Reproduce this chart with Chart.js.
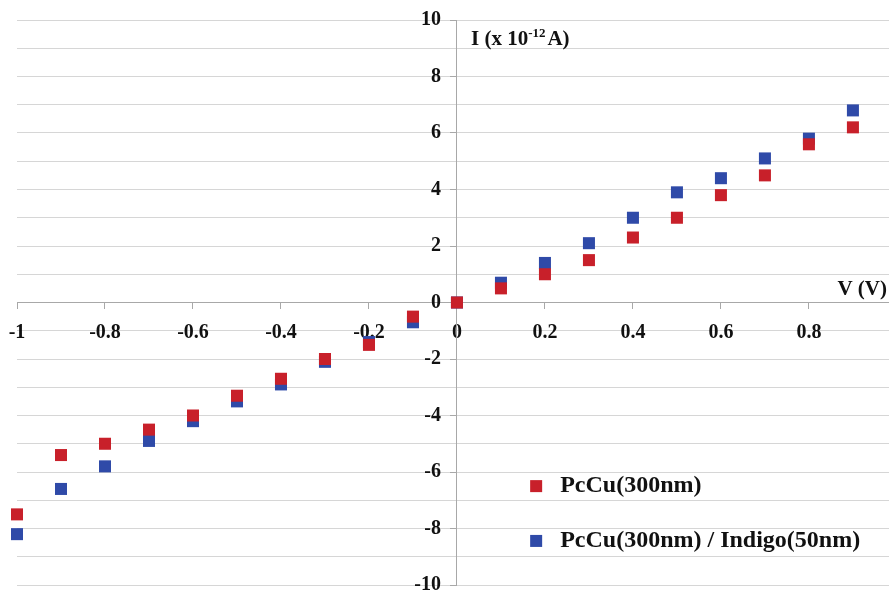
<!DOCTYPE html>
<html>
<head>
<meta charset="utf-8">
<script src="https://cdn.jsdelivr.net/npm/chart.js@4/dist/chart.umd.min.js"></script>
<style>
  html, body { margin: 0; padding: 0; background: #fff; }
  #wrap { width: 889px; height: 592px; }
</style>
</head>
<body>
<div id="wrap"><canvas id="ivChart" width="889" height="592"></canvas></div>
<script>
// voltages (V) and currents (x 10^-12 A)
const voltages = [-1, -0.9, -0.8, -0.7, -0.6, -0.5, -0.4, -0.3, -0.2, -0.1, 0, 0.1, 0.2, 0.3, 0.4, 0.5, 0.6, 0.7, 0.8, 0.9];
const pccu = [-7.5, -5.4, -5.0, -4.5, -4.0, -3.3, -2.7, -2.0, -1.5, -0.5, 0, 0.5, 1.0, 1.5, 2.3, 3.0, 3.8, 4.5, 5.6, 6.2];
const pccuIndigo = [-8.2, -6.6, -5.8, -4.9, -4.2, -3.5, -2.9, -2.1, -1.4, -0.7, 0, 0.7, 1.4, 2.1, 3.0, 3.9, 4.4, 5.1, 5.8, 6.8];
const seriesNames = ['PcCu(300nm)', 'PcCu(300nm) / Indigo(50nm)'];
const seriesColors = ['#c8202a', '#2f4aa8'];
const xTicks = [-1, -0.8, -0.6, -0.4, -0.2, 0, 0.2, 0.4, 0.6, 0.8];

const serif = '"Liberation Serif", "Times New Roman", serif';

function toPoints(ys) {
  return voltages.map((v, i) => ({ x: v, y: ys[i] }));
}

// keep the crossing axes from pushing the plot area inwards
function noPadding(scale) {
  scale.paddingLeft = 0;
  scale.paddingRight = 0;
  scale.paddingTop = 0;
  scale.paddingBottom = 0;
}

// y labels sit right on the axis line by default, move them left a bit
const shiftYLabels = {
  id: 'shiftYLabels',
  beforeDraw(chart) {
    const items = chart.scales.y.getLabelItems(chart.chartArea);
    items.forEach(it => {
      if (!it._shifted) {
        it.options.translation[0] -= 16;
        it._shifted = true;
      }
    });
  }
};

// axis titles and the in-plot legend
const annotations = {
  id: 'annotations',
  afterDraw(chart) {
    const c = chart.ctx;
    const xs = chart.scales.x, ys = chart.scales.y;
    c.save();
    c.fillStyle = '#111';
    c.textBaseline = 'alphabetic';

    // y title: I (x 10^-12 A)
    let tx = xs.getPixelForValue(0) + 14, ty = ys.getPixelForValue(10) + 25;
    c.font = 'bold 21px ' + serif;
    c.fillText('I (x 10', tx, ty);
    tx += c.measureText('I (x 10').width;
    c.font = 'bold 13px ' + serif;
    c.fillText('-12', tx, ty - 8);
    tx += c.measureText('-12').width + 2;
    c.font = 'bold 21px ' + serif;
    c.fillText('A)', tx, ty);

    // x title
    c.textAlign = 'right';
    c.fillText('V (V)', chart.chartArea.right - 2, ys.getPixelForValue(0) - 8);

    // legend
    c.textAlign = 'left';
    c.textBaseline = 'middle';
    c.font = 'bold 24px ' + serif;
    const lx = xs.getPixelForValue(0.18);
    [ys.getPixelForValue(-6.5), ys.getPixelForValue(-8.44)].forEach((ly, i) => {
      c.fillStyle = seriesColors[i];
      c.fillRect(lx - 6, ly - 6, 12, 12);
      c.fillStyle = '#111';
      c.fillText(seriesNames[i], lx + 24, ly);
    });
    c.restore();
  }
};

const ctx = document.getElementById('ivChart').getContext('2d');
new Chart(ctx, {
  type: 'scatter',
  data: {
    datasets: [
      {
        label: seriesNames[0],
        data: toPoints(pccu),
        pointStyle: 'rect',
        pointRadius: 8.5,
        pointHoverRadius: 8.5,
        backgroundColor: seriesColors[0],
        borderColor: seriesColors[0],
        borderWidth: 0,
        clip: false
      },
      {
        label: seriesNames[1],
        data: toPoints(pccuIndigo),
        pointStyle: 'rect',
        pointRadius: 8.5,
        pointHoverRadius: 8.5,
        backgroundColor: seriesColors[1],
        borderColor: seriesColors[1],
        borderWidth: 0,
        clip: false
      }
    ]
  },
  options: {
    responsive: false,
    animation: false,
    layout: { autoPadding: false, padding: { left: 17, top: 20, right: 0, bottom: 7 } },
    scales: {
      x: {
        type: 'linear',
        min: -1,
        max: 0.982,
        position: { y: 0 },
        afterFit: noPadding,
        afterBuildTicks: (scale) => { scale.ticks = xTicks.map(v => ({ value: v })); },
        ticks: {
          color: '#111',
          font: { family: serif, size: 20, weight: 'bold' },
          padding: 12,
          maxRotation: 0,
          callback: (v) => String(v)
        },
        grid: { drawOnChartArea: false, drawTicks: true, tickLength: 6, color: '#a8a8a8' },
        border: { color: '#a8a8a8', width: 1 }
      },
      y: {
        type: 'linear',
        min: -10,
        max: 10,
        position: { x: 0 },
        afterFit: noPadding,
        ticks: {
          stepSize: 1,
          color: '#111',
          font: { family: serif, size: 20, weight: 'bold' },
          callback: (v) => (v % 2 === 0 ? String(v) : '')
        },
        grid: {
          color: '#d6d6d6',
          tickLength: 6,
          tickColor: (c) => (c.tick && c.tick.value % 2 === 0 ? '#a8a8a8' : 'rgba(0,0,0,0)')
        },
        border: { color: '#a8a8a8', width: 1 }
      }
    },
    plugins: {
      legend: { display: false },
      tooltip: { enabled: false }
    }
  },
  plugins: [shiftYLabels, annotations]
});
</script>
</body>
</html>
